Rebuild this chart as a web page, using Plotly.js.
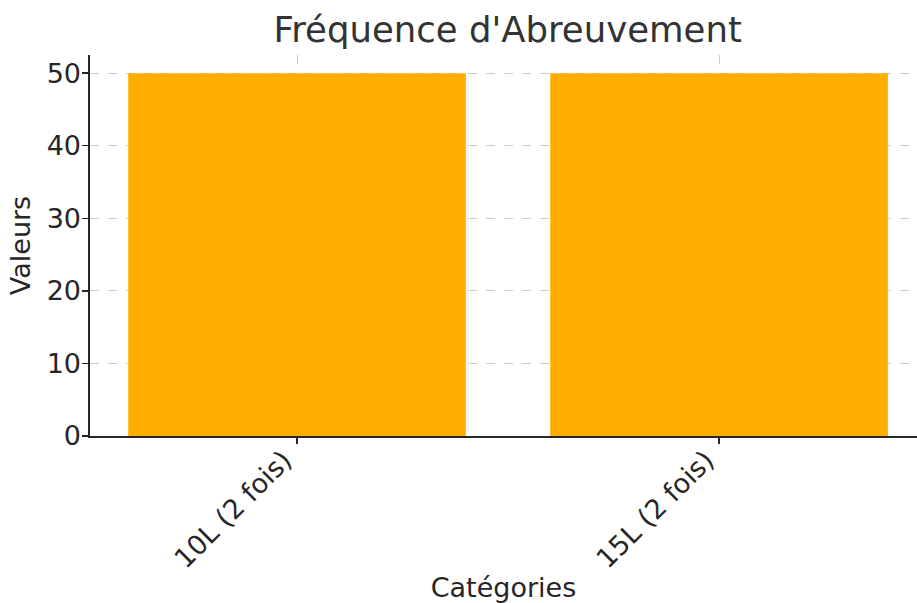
<!DOCTYPE html>
<html>
<head>
<meta charset="utf-8">
<script src="https://cdn.plot.ly/plotly-3.0.1.min.js"></script>
<style>html,body{margin:0;padding:0;background:#fff}#chart{width:917px;height:603px}</style>
</head>
<body>
<div id="chart"></div>
<script>
const categories = ["10L (2 fois)", "15L (2 fois)"];
const values = [50, 50];
const titleText = "Fréquence d'Abreuvement";
const xLabel = "Catégories";
const yLabel = "Valeurs";
const yTicks = [0, 10, 20, 30, 40, 50];

const font = "DejaVu Sans, sans-serif";
const data = [{
  type: "bar",
  x: [0, 1],
  y: values,
  width: 0.8,
  marker: {color: "#FFAE00", line: {width: 0}},
  hoverinfo: "skip"
}];
const layout = {
  width: 917, height: 603,
  margin: {l: 90, r: 0, t: 55, b: 167, pad: 0},
  paper_bgcolor: "#fff", plot_bgcolor: "#fff",
  font: {family: font, color: "#262626"},
  title: {text: titleText, font: {size: 35.5, family: font, color: "#333333"}, x: 0.505, xanchor: "center", xref: "paper", y: 0.951, yanchor: "middle", yref: "container"},
  xaxis: {
    range: [-0.4905, 1.469],
    tickvals: [0, 1], ticktext: categories,
    tickangle: -45,
    tickfont: {size: 27, family: font, color: "#262626"},
    ticks: "outside", ticklen: 6, tickwidth: 1.3, tickcolor: "#262626",
    ticklabelstandoff: -10, ticklabelshift: -13,
    showgrid: true, gridcolor: "#cccccc", griddash: "dash", gridwidth: 1,
    showline: true, linecolor: "#262626", linewidth: 1.6,
    zeroline: false,
    title: {text: xLabel, font: {size: 27, family: font, color: "#262626"}, standoff: 20},
    fixedrange: true
  },
  yaxis: {
    range: [0, 52.5],
    tickvals: yTicks,
    tickfont: {size: 27, family: font, color: "#262626"},
    ticks: "outside", ticklen: 6, tickwidth: 1.3, tickcolor: "#262626",
    ticklabelstandoff: -4,
    showgrid: true, gridcolor: "#cccccc", griddash: "dash", gridwidth: 1,
    showline: true, linecolor: "#262626", linewidth: 1.6,
    zeroline: false,
    title: {text: yLabel, font: {size: 27, family: font, color: "#262626"}, standoff: 8},
    fixedrange: true
  },
  showlegend: false
};
Plotly.newPlot("chart", data, layout, {displayModeBar: false, staticPlot: true});
</script>
</body>
</html>
